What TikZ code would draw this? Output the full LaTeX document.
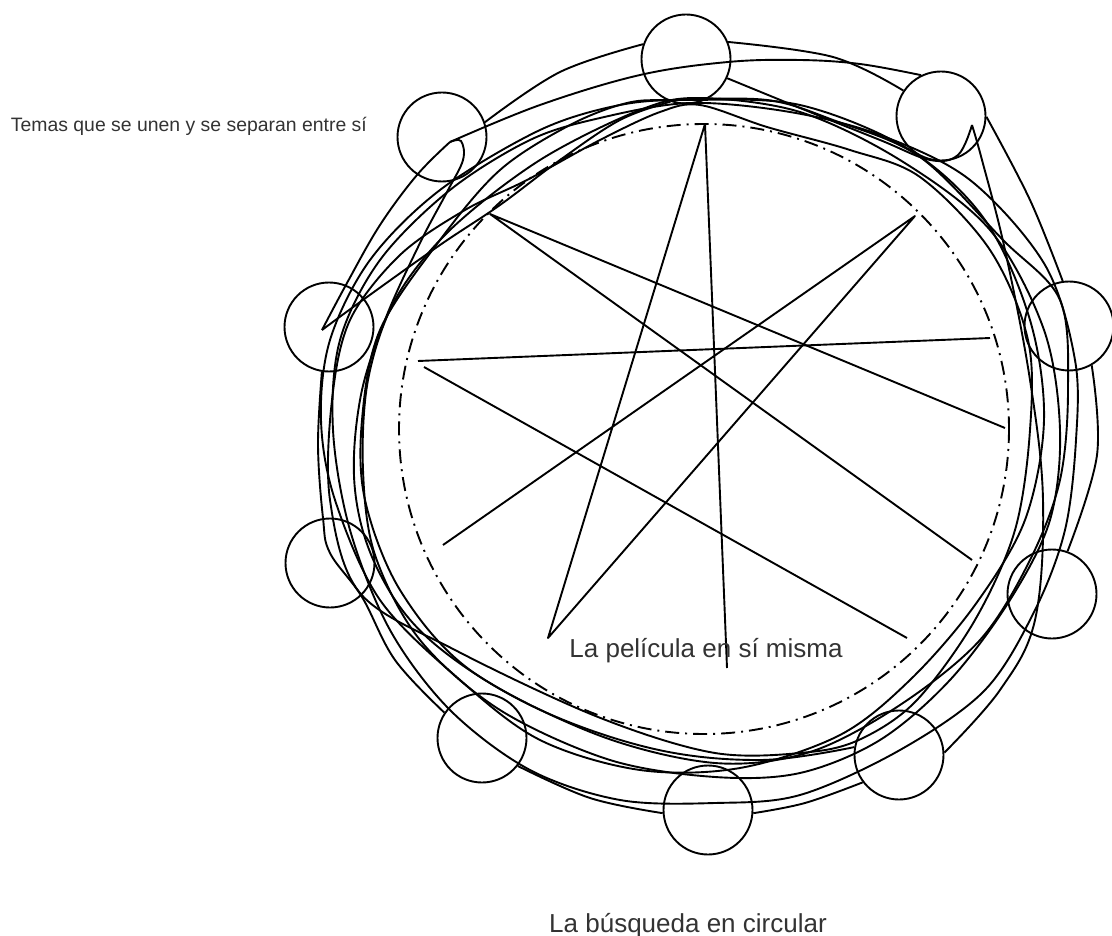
\documentclass[tikz,border=0pt]{standalone}
\usepackage{fontspec}
\setmainfont{Liberation Sans}
\tikzset{
  every picture/.style={line width=1.9pt, line join=round},
  topic/.style={circle, draw, minimum size=89pt, inner sep=0pt},
  strand/.style={smooth, tension=0.6},
  scribble/.style={smooth cycle, tension=0.55},
  orbit/.style={dash pattern=on 14pt off 6pt on 2pt off 6pt},
  caption/.style={inner sep=0pt, text=black!80},
}

\begin{document}
\begin{tikzpicture}[x=1pt, y=-1pt]
  \useasboundingbox (0,0) rectangle (1112,936);
  % topics round the film
  \node[topic] (t1) at (686,59) {};
  \node[topic] (t2) at (941,116) {};
  \node[topic] (t3) at (1069,326) {};
  \node[topic] (t4) at (1052,594) {};
  \node[topic] (t5) at (899,755) {};
  \node[topic] (t6) at (708,810) {};
  \node[topic] (t7) at (482,738) {};
  \node[topic] (t8) at (330,563) {};
  \node[topic] (t9) at (329,327) {};
  \node[topic] (t10) at (442,137) {};
  % the film itself
  \draw[orbit] (704,429) circle[radius=305];
  \coordinate (s0) at (705,124);
  \coordinate (s1) at (915,216);
  \coordinate (s2) at (990,338);
  \coordinate (s3) at (1005,428);
  \coordinate (s4) at (972,560);
  \coordinate (s5) at (907,638);
  \coordinate (s6) at (727,668);
  \coordinate (s7) at (548,638);
  \coordinate (s8) at (443,545);
  \coordinate (s9) at (424,367);
  \coordinate (s10) at (418,361);
  \coordinate (s11) at (490,214);
  \draw (s6) -- (s0) -- (s7) -- (s1) -- (s8);
  \draw (s3) -- (s11) -- (s4);
  \draw (s2) -- (s10);
  \draw (s9) -- (s5);
  % texts
  \node[caption, anchor=base west, font=\fontsize{19.4}{23}\selectfont] (themes) at (10,132) {Temas que se unen y se separan entre sí};
  \node[caption, anchor=base, font=\fontsize{26}{31}\selectfont] (film) at (706,657) {La película en sí misma};
  \node[caption, anchor=base, font=\fontsize{26}{31}\selectfont] (search) at (688,932) {La búsqueda en circular};
  % outer ring from topic to topic
  \draw plot[strand] coordinates {(t10.19) (560,72) (t1.161)};
  \draw plot[strand] coordinates {(t1.22) (833,57) (t2.146)};
  \draw plot[strand] coordinates {(t2.359) (1030,200) (t3.98)};
  \draw plot[strand] coordinates {(t3.300) (1097,455) (t4.70)};
  \draw plot[strand] coordinates {(t5.217) (805,803) (t6.356)};
  \draw plot[strand] coordinates {(t6.184) (590,798) (t7.322)};
  \draw plot[strand] coordinates {(t7.146) (395,660) (362,597) (330,553) (323,518) (318,445) (t9.261)};
  % strands that join and split
  \coordinate (hTL) at (450,142);
  \coordinate (hL) at (322,330);
  \coordinate (hTR) at (972,125);
  \draw plot[strand] coordinates {(t2.116) (860,64) (800,60) (728,62) (640,75) (540,105) (hTL)};
  \draw plot[strand] coordinates {(hTL) (417,175) (380,225) (347,283) (hL)};
  \draw plot[strand] coordinates {(hL) (367,297) (440,245) (500,205) (560,160) (620,120) (t1.250)};
  \draw plot[strand] coordinates {(hTL) (461,141) (463,160) (447,192) (420,243) (385,320) (360,400) (355,490) (378,570) (430,640) (530,705) (650,748) (760,760) (t5.170)};
  \draw plot[strand] coordinates {(t1.335) (800,108) (880,140) (930,160) (958,155) (hTR)};
  \draw plot[strand] coordinates {(hTR) (982,160) (1005,250) (1030,380) (1043,500) (1035,620) (1000,690) (t5.3)};
  % loops round the film
  \draw plot[scribble] coordinates {(673,100) (767,100) (833,120) (920,157) (1003,240) (1060,300) (1068,390) (1060,480) (1030,560) (980,640) (900,705) (810,752) (715,763) (598,735) (470,670) (400,590) (365,500) (362,420) (380,330) (440,240) (500,170) (570,125) (627,103)};
  \draw plot[scribble] coordinates {(700,105) (767,127) (850,150) (920,177) (990,250) (1028,340) (1030,430) (1015,530) (975,620) (917,700) (863,738) (810,752) (715,753) (598,717) (455,650) (360,593) (330,500) (332,400) (350,320) (400,255) (465,210) (527,180) (600,140) (660,112)};
  \draw plot[scribble] coordinates {(640,110) (700,98) (800,112) (900,160) (990,230) (1044,330) (1060,430) (1050,520) (1010,600) (950,680) (880,740) (800,773) (715,777) (610,760) (500,710) (420,640) (375,555) (363,470) (368,380) (395,300) (450,230) (540,160)};
  \draw plot[scribble] coordinates {(600,118) (690,103) (790,112) (880,135) (970,180) (1045,265) (1075,360) (1076,440) (1065,530) (1035,610) (985,690) (900,750) (800,795) (715,803) (620,800) (530,770) (450,710) (390,630) (350,530) (333,430) (340,340) (380,260) (450,190) (530,140)};
  \draw plot[scribble] coordinates {(690,100) (800,105) (910,150) (985,220) (1030,320) (1044,420) (1025,520) (975,605) (910,680) (840,735) (740,768) (640,770) (540,740) (460,680) (380,600) (335,500) (321,420) (330,340) (370,260) (440,190) (540,130) (620,105)};
\end{tikzpicture}
\end{document}
